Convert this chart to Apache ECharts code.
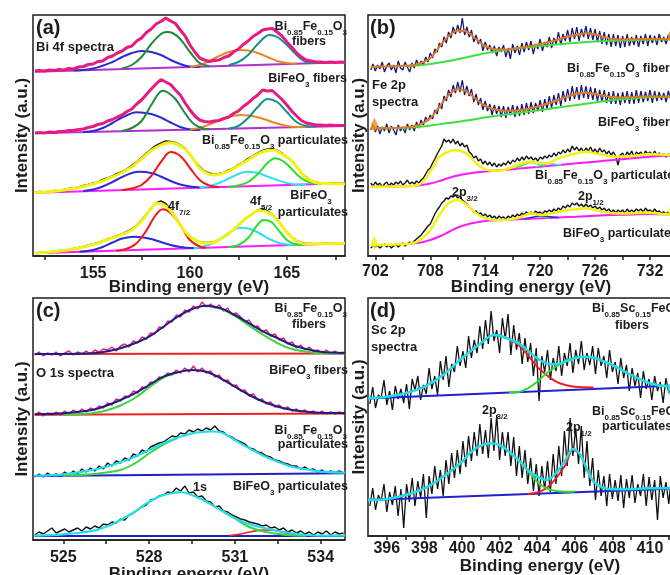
<!DOCTYPE html>
<html><head><meta charset="utf-8">
<script src="https://cdn.jsdelivr.net/npm/echarts@6/dist/echarts.min.js"></script>
<style>html,body{margin:0;padding:0;background:#fff}#c{width:670px;height:575px}</style>
</head><body><div id="c"></div>
<script>
// ---------- Panel (a): Bi 4f ----------
const aTicks=[152.5,155,157.5,160,162.5,165,167.5];
const aLabels=[155,160,165];
const aRawStart=152, aRawStep=0.25;
const aRaw1=[184,184.5,184,185,184.5,185.5,185,186.5,186,188,188.5,190.5,191,193.5,194,197.5,199,202,204,207.5,209,214,217,222.5,226,231,233.5,237,234,231.5,225,219,210,203,197,195,193.5,194.5,195,197.5,199,203,206,210.5,214,218.5,221.5,225,226,226.5,223,219,213,208,202,198,195,194,193,193,192.5,193,192.5,193,192.8];
const aRaw2=[122,122.5,122,123,122.5,123.5,123.5,124.5,124.5,125.5,126,127.5,128.5,130.5,131.5,134,135.5,138,140,143.5,146,151,155,160.5,166,171,175.5,173,170.5,165,160,152,145,139,135,133.5,133,134,134.5,136.5,138,141.5,144,148.5,152,156.5,160,165,164,164.5,160,155.5,150,144,139,134.5,132,131,130,130,129.5,130,129.5,129.5,129.5];
const aRaw3=[62.5,63.5,63,64,64.5,64,65.5,66.5,67,68,69.5,70.5,72,73,75.5,77,79,81.5,83.5,86,89.5,93,97.5,102,106,109.5,112,114,113.5,112.5,110,106.5,100.5,94,88.5,84,82,80.5,81.5,82.5,85,87,90.5,93,96.5,99,102,104.5,106,106.5,104.5,102,98,94,88.5,82,78,74.5,73,72,72,71.5,72,71.5,71.5];
const aRaw4=[2,2.5,3,3,4,4.5,5,5.5,6.5,7.5,8.5,10,11,12.5,14,16,17.5,19.5,21,23.5,26,30,35,41,47,52,54,51.5,45.5,38,30.5,23.5,18.5,15,13.5,12.5,12.5,13.5,15,18,21,25,29.5,34,38,41.5,45,46.5,44,40.5,35.5,29,23,18,14.5,12.5,11.5,11.5,11,11.5,11.5,12,11.5,12,12];
const aBase1=[[152,183.3],[168,192.7]];
const aBlue1=[[154,184.5],[155,186.5],[156,193],[156.5,198],[157,202],[157.5,204],[158,203],[158.5,200],[159,195],[159.5,191],[160,188.5],[160.5,188.3]];
const aGreen1=[[156.5,186.5],[157,190],[157.5,198],[158,211],[158.5,221],[158.8,223],[159.1,222],[159.5,216],[160,203],[160.5,192],[161,189]];
const aOrange1=[[160,188],[160.5,190],[161,194],[161.5,199],[162,203],[162.6,205],[163,204.5],[163.5,202],[164,198],[164.5,194],[165,192],[165.5,191.2]];
const aTeal1=[[162,190],[162.5,193],[163,200],[163.5,211],[164.1,220],[164.5,218],[165,210],[165.5,200],[166,193],[166.5,192]];
const aBase2=[[152,121.7],[168,129]];
const aBlue2=[[154.5,122.9],[155,124],[155.5,127],[156,132],[156.5,137.5],[157.25,142.7],[158,141],[158.5,137.5],[159,132.5],[159.5,128],[160,125.5],[160.5,125]];
const aGreen2=[[156.5,124],[157,127],[157.5,134],[158,150],[158.6,164.3],[159.2,157],[159.7,143],[160.2,131],[160.7,126.5],[161,125.7]];
const aOrange2=[[160,125.4],[160.5,127],[161,130.5],[161.5,134.5],[162,138],[162.6,140],[163.2,139],[163.8,136],[164.4,132],[165,129],[165.5,128],[166,128]];
const aTeal2=[[162,126.3],[162.5,129],[163,137],[163.5,148],[164,156],[164.5,153],[165,143],[165.5,133],[166,129],[166.5,128.4]];
const aBase3=[[152,62.3],[168,71.7]];
const aBlue3=[[154.5,64],[155,65.5],[155.5,68.5],[156,73],[156.5,78],[157,82],[157.4,83.3],[158,82],[158.5,78.5],[159,74],[159.5,70.5],[160,68.5],[160.5,67.5]];
const aRed3=[[156.5,65],[157,66.5],[157.5,70],[158,79],[158.5,93],[159,103],[159.5,99],[160,87],[160.5,75],[161,69.5],[161.5,68]];
const aCyan3=[[160.5,67.5],[161,69],[161.5,72],[162,76.5],[162.5,81],[162.9,83.3],[163.5,82],[164,78.5],[164.5,75],[165,72],[165.5,70.5],[166,70.6]];
const aGreenB3=[[162,68.2],[162.5,69.5],[163,73],[163.5,81],[164,92],[164.4,96.7],[164.8,94],[165.2,87],[165.6,79],[166,74],[166.5,71.5],[167,71.2]];
const aFit3=[[152,62.3],[152.5,63],[153,63.8],[153.5,65],[154,66.5],[154.5,68.5],[155,71],[155.5,74],[156,78],[156.5,82.5],[157,88],[157.5,96],[158,104.5],[158.5,110],[158.9,112.3],[159.3,111],[159.8,105],[160.2,95],[160.5,87],[160.9,81.5],[161.2,80],[161.6,81],[162,84],[162.5,89.5],[163,95],[163.5,101],[164,104.5],[164.3,105],[164.7,101.5],[165.2,95],[165.6,86],[166,77],[166.5,72.5],[167,71.5],[168,71.2]];
const aBase4=[[152,1.7],[160,6.7],[168,11.8]];
const aBlue4=[[154.3,3.2],[155,5],[155.5,8],[156,12.5],[156.5,16.5],[157.1,18.3],[157.6,17.5],[158,16],[158.5,13],[159,10],[159.5,8],[160,7],[160.3,7]];
const aRed4=[[156.2,4.3],[156.7,6],[157.2,11],[157.7,23],[158.2,39],[158.6,45.7],[159,42],[159.5,30],[160,15],[160.5,8.5],[160.8,7.3]];
const aCyan4=[[160.2,6.8],[160.7,8.5],[161.2,12],[161.7,18],[162.2,24.5],[162.6,27.3],[163.1,26],[163.6,21.5],[164.1,16],[164.6,12],[165.1,10.3],[165.5,10.1]];
const aGreenB4=[[162,8],[162.5,10],[163,17],[163.4,28],[163.8,35],[164.2,33],[164.6,24],[165,15],[165.4,11],[165.8,10.3]];
const aFit4=[[152,1.7],[152.5,2.5],[153,3.5],[153.5,4.5],[154,6],[154.5,8],[155,10.5],[155.5,13.5],[156,17],[156.5,20.5],[157,25],[157.5,34],[157.9,44],[158.3,51.5],[158.7,49.5],[159.1,41.7],[159.5,30],[160,18.3],[160.5,13],[160.9,11.7],[161.4,14],[161.9,20],[162.4,28],[162.9,36.7],[163.6,44.5],[164.1,42],[164.5,35],[164.9,25],[165.2,18.3],[165.6,13],[166,11],[167,11.3],[168,11.8]];

// ---------- Panel (b): Fe 2p ----------
const bTicks=[702,705,708,711,714,717,720,723,726,729,732,735];
const bLabels=[702,708,714,720,726,732];
const bRawStart=701.5, bRawStep=0.25;
const bRaw1=[186,192,185,191,187,194,184,190,193,186,191,183,195,188,186,194,189,184,193,188,196,190,195,191,199,194,203,198,207,204,213,209,219,213,224,218,229,222,231,223,238,221,229,219,226,214,221,212,217,205,214,206,211,203,210,200,209,204,211,199,208,197,212,203,210,201,213,204,214,206,215,202,212,207,217,205,214,209,219,208,218,212,224,211,222,215,226,214,228,217,229,215,227,219,230,217,228,216,227,214,225,212,224,211,222,209,222,210,221,208,220,209,222,210,219,211,221,209,220,212,222,210,221,213,220,211,222,214,219,212,221,215,218,214,217];
const bRaw2=[126,131,124,130,122,129,125,132,123,130,126,121,131,125,129,123,132,126,131,125,134,128,136,131,139,135,141,137,146,142,153,147,160,155,166,159,171,163,174,164,176,161,170,160,167,154,162,151,158,146,155,145,152,141,151,142,150,139,150,138,149,141,151,139,150,140,152,141,153,142,154,143,153,145,156,144,157,147,160,148,161,151,163,150,165,154,167,155,170,157,169,156,171,158,170,157,169,156,168,155,166,154,166,153,164,152,165,152,163,151,164,153,165,152,164,152,166,153,165,154,164,155,166,153,165,155,164,156,163,154,165,157,162,158,160];
const bRaw3=[73,70,74,71,73,69,72,74,70,73,71,74,72,75,71,73,76,72,74,72,75,73,76,78,82,86,88,93,97,102,106,110,117,114,116,113,117,112,115,110,113,109,111,104,102,98,100,95,97,92,95,91,94,90,93,89,92,90,93,91,95,92,96,94,98,95,99,96,100,97,99,96,98,95,99,97,100,98,101,99,103,100,104,102,106,103,107,104,110,106,109,105,108,104,108,105,109,104,107,103,108,104,106,102,105,101,104,100,91,101,103,99,104,101,105,99,104,102,104,100,105,102,104,101,105,101,103,100,102,99,102,99,101,100,100];
const bRaw4=[8,10,9,11,8,10,12,9,11,8,10,12,9,11,13,10,12,14,12,15,17,19,21,24,27,30,32,37,42,46,49,53,55,58,57,60,59,61,58,60,56,54,52,49,47,44,45,42,43,40,42,39,41,38,40,37,40,38,39,37,40,38,41,39,42,40,43,41,44,42,44,42,45,43,44,42,45,44,46,44,47,45,48,46,50,48,51,49,53,51,53,50,52,49,52,49,51,48,50,47,49,46,48,45,47,44,46,43,46,44,46,43,47,44,46,44,47,45,47,44,48,45,46,44,47,44,45,43,44,42,44,41,43,41,42];
const bFit1=[[701.5,189.3],[702,189.3],[703,189.5],[704,189.8],[705,190.2],[706,190.7],[707,193],[708,197.7],[709,209.3],[710,220],[711,225.3],[712,224.3],[713,216.7],[714,210],[715,206.7],[716,206.3],[717,207],[718,208.6],[719,210],[720,212],[721,214],[722,216.7],[723,219.5],[724,221],[725,222.7],[726,221.7],[727,219],[728,217],[729,216.5],[730,216.8],[731,217],[732,217],[733,217],[734,216.8],[735,216.7]];
const bBase1=[[704.5,190],[706,190.3],[708,192],[710,195],[712,198.7],[714,202.7],[716,205.8],[718,208.2],[720,210],[722,211.7],[724,213.3],[726,214.5],[728,215.2],[730,216],[732,216.5],[735,216.7]];
const bFit2=[[701.5,127.7],[702,127.7],[703,127.8],[704,128],[705,128.5],[706,129.3],[707,132],[708,137.7],[709,149.3],[710,161],[711,166.7],[712,164.3],[713,156.7],[714,150],[715,146.7],[716,145.3],[717,145.3],[718,146],[719,147.8],[720,150],[721,153],[722,156],[723,159.5],[724,162],[725,163.3],[726,162],[727,160.3],[728,158.7],[729,158.6],[730,158.8],[731,159.3],[732,159.6],[733,159.5],[734,159.3],[735,159.3]];
const bBase2=[[701.5,127.7],[704,127.9],[706,128.5],[708,130.5],[710,133],[712,135.5],[714,138.5],[716,141],[718,143.5],[720,146],[722,148.5],[724,151],[726,153.5],[728,156],[730,157.5],[732,158.7],[735,159.3]];
const bFit3=[[701.5,69.3],[702,69.3],[704,69.5],[706,70],[707,72.7],[708,84.3],[709,99.3],[710,104.3],[710.7,106],[712,102],[713,92.7],[714,86.7],[715,85.3],[716,86],[717,89],[718,92.7],[719,94.3],[720,92.7],[721,93.3],[722,97.7],[723,100.5],[724,102.7],[725,104.3],[726,102.7],[727,101],[728,99.3],[729,99.5],[730,100],[731,101],[732,102],[733,101.5],[734,101],[735,101.3]];
const bBase3=[[701.5,69.3],[706,70],[707,71],[708,72.5],[709,75],[710,78],[711,80.5],[712,82.3],[714,84.5],[716,86],[718,87.7],[720,89.3],[722,91],[724,92.7],[726,94.3],[728,96],[730,97.7],[732,99.3],[734,100.5],[735,101]];
const bGreen3=[[717.3,88],[718,90.5],[719,93.5],[719.8,92],[720.5,89.5]];
const bCyan3=[[719.5,89],[720.3,91.5],[721,92.5],[721.7,91.5],[722.3,91]];
const bFit4=[[701.5,11],[702,11],[704,11.5],[706,12.7],[707,16.7],[708,26],[709,41],[710,52.7],[711,56],[712,51],[713,42.7],[714,37.7],[715,36],[716,36],[717,37],[718,39.3],[719,42.7],[720,41],[721,42],[722,44.3],[723,46],[724,46.7],[725,47.7],[726,46],[727,44],[728,42.7],[729,42.5],[730,42.7],[731,43.2],[732,43.3],[733,42.5],[734,41.5],[735,41.2]];
const bBase4=[[705.9,12.5],[707,13.5],[708,16],[709,19.5],[710,24],[711,28.5],[712,31.5],[713,33.5],[714,35],[716,36],[718,37],[720,37.7],[722,38.5],[724,39.3],[726,40.2],[728,41],[730,41.5],[732,42],[734,41.5],[735,41.2]];
const bGreen4=[[717,37],[718.3,40.5],[719.2,42.2],[720,40],[721,38]];
const bBlue4=[[718.3,37.3],[719.3,39],[720.2,40.3],[721,39.3],[722,38.6]];
// spectrum end markers visible at panel (b)/(d) edges
const bEndOrange=[[701.9,131],[734.3,220]];
const bEndYellow=[[701.9,13],[734.3,44]];
const dEndCyan=[[411.1,146]];

// ---------- Panel (c): O 1s ----------
const cTicks=[525,526.5,528,529.5,531,532.5,534];
const cLabels=[525,528,531,534];
const cRawStart=524, cRawStep=0.15;
const cRaw1=[185,188,184,187,185,188,184,187,189,185,188,186,189,186,190,188,191,190,193,189,194,196,193,199,197,203,201,207,206,213,212,219,218,225,223,230,228,234,231,238,233,236,232,235,229,232,225,227,223,218,220,213,214,208,210,204,206,200,202,196,198,192,195,190,193,188,190,187,190,186,189,186,188];
const cRaw2=[125,128,124,127,125,128,125,129,126,130,127,131,128,132,130,134,132,137,135,141,139,144,143,149,147,153,152,158,157,163,162,167,165,170,167,172,168,174,168,172,167,169,163,165,159,160,154,155,149,150,144,146,140,141,136,138,133,135,131,133,129,131,128,130,127,129,126,129,126,128,126,128,126];
const cRaw3=[63,66,63,67,64,66,64,68,65,69,66,71,68,72,69,74,71,77,74,79,77,82,80,86,84,90,88,93,95,97,98,101,104,103,107,106,110,108,111,109,112,110,114,109,108,104,103,100,98,96,92,91,88,87,84,83,80,79,77,76,74,74,71,73,70,71,68,70,67,69,67,69,67];
const cRaw4=[5,8,6,9,12,7,9,11,8,10,12,9,13,11,14,12,16,15,18,17,21,20,25,27,30,33,35,40,41,44,45,48,47,52,49,54,47,48,43,44,39,38,33,34,29,28,25,23,21,20,18,17,16,14,15,12,13,10,12,8,10,7,9,6,8,5,8,6,9,5,8,6,7];
const cFit1=[[524,186],[525,186],[526,186.7],[526.5,188.5],[527,191.7],[527.5,196.7],[528,203.3],[528.5,213.3],[529,223.3],[529.5,231],[530,234.3],[530.5,231.7],[531,225],[531.5,216.7],[532,208.3],[532.5,201.7],[533,195],[533.5,191],[534,188.3],[534.85,187]];
const cGreen1=[[530,234.3],[530.5,231.5],[531,224],[531.5,214.3],[532,205],[532.5,196.7],[533,191],[533.5,188.3],[534,186.9],[534.85,186.5]];
const cBase1=[[524,186],[534.85,186.5]];
const cFit2=[[524,125.7],[525,126.7],[526,130],[526.5,134.3],[527,140],[527.5,146.7],[528,155],[528.5,163.3],[529,167.7],[529.5,170],[530,168.3],[530.5,161.7],[531,153.3],[531.5,145],[532,138.3],[532.5,133.3],[533,130],[533.5,128.3],[534,127.3],[534.85,127]];
const cGreen2=[[525,125.4],[525.5,125.8],[526,126.8],[526.5,129.5],[527,134.5],[527.5,142],[528,152.5],[528.5,162.5],[529,167.5]];
const cBase2=[[524,125.3],[534.85,126.5]];
const cFit3=[[524,64.3],[525,65.7],[526,70],[526.5,73.3],[527,77.7],[527.5,83.3],[528,90],[528.5,96.7],[529,102.3],[529.5,106.7],[530,108.3],[530.2,108.5],[530.5,107.7],[531,100],[531.5,91.7],[532,84.3],[532.5,78.3],[533,73.3],[533.5,70.7],[534,68.3],[534.85,67.3]];
const cGreen3=[[525,64.5],[525.5,64.9],[526,65.7],[526.5,67.5],[527,70],[527.5,76.5],[528,86.5],[528.5,95.5],[529,102]];
const cBase3=[[524,64],[534.85,66.7]];
const cFit4=[[524,4.3],[525,5.7],[526,9],[526.5,13.3],[527,20],[527.5,28.3],[528,38.3],[528.5,45],[529,47.7],[529.1,48],[529.5,45],[530,38.3],[530.5,30],[531,21.7],[531.5,15.7],[532,12.3],[532.5,9],[533,6.7],[533.5,5],[534,4.3],[534.85,4.3]];
const cGreen4=[[530.5,30],[531,21.5],[531.5,13],[532,8.5],[532.5,6],[533,4.8],[533.5,4.3]];
const cRed4=[[530.8,4.4],[531.2,6],[531.6,8.5],[532,10],[532.4,9.5],[532.8,7],[533.2,5],[533.5,4.4]];
const cBase4=[[524,4],[534.85,4]];

// ---------- Panel (d): Sc 2p ----------
const dTicks=[396,397,398,399,400,401,402,403,404,405,406,407,408,409,410,411,412,413];
const dLabels=[396,398,400,402,404,406,408,410,412];
const dRawStart=395.1, dRawStep=0.15;
const dRaw1=[132,149,128,141,138,156,131,145,126,150,137,147,133,152,127,157,146,160,136,151,142,168,147,160,141,175,156,180,149,172,164,190,170,185,168,200,178,196,183,210,187,216,192,225,195,206,183,218,197,222,181,211,186,203,172,198,174,193,160,188,135,180,164,186,156,178,165,190,160,183,170,193,163,186,172,195,166,183,171,190,162,188,170,180,158,186,164,174,152,178,158,171,145,168,150,163,138,165,147,157,136,160,145,154,133,158,143,149,137,156];
const dRaw2=[30,48,26,41,35,52,24,44,31,50,20,47,8,52,34,58,30,55,38,62,18,60,42,70,47,66,40,76,52,83,58,86,62,95,69,100,75,104,80,112,82,106,78,118,85,121,76,104,80,104,70,99,60,90,58,86,52,78,45,72,40,70,46,75,44,82,52,90,60,105,70,118,80,108,72,110,58,95,50,78,36,66,40,60,30,62,37,56,35,61,28,57,38,61,33,52,40,62,30,59,36,56,16,60,38,54,32,62,40,57];
const dFit1=[[395,137.7],[396,139.3],[397,142.7],[398,149.3],[399,161],[400,177.7],[401,192.7],[401.7,201],[402,200.3],[403,192.7],[404,177.7],[404.5,172.7],[405,171.7],[405.5,174.3],[406,177.7],[406.5,179.3],[407,178.3],[408,171],[409,161],[410,152.7],[410.8,150],[411.5,150.5]];
const dRed1=[[401.7,201],[402,200.3],[402.5,197],[403,191],[403.5,181],[404,169.3],[404.5,161],[405,154.3],[405.5,151],[406,149.3],[406.5,148.7],[407,148.6]];
const dGreen1=[[402.5,143.5],[403,144],[403.5,147.7],[404,154.3],[404.5,162.7],[405,169.3],[405.5,175],[406,178.3],[406.5,179.3]];
const dBase1=[[395,137.6],[411.5,150.5]];
const dFit2=[[395,36],[396,37],[397,41],[398,47.7],[399,59.3],[400,74.3],[400.5,84.3],[401,90.3],[401.5,92.7],[402,91],[402.5,84.3],[403,76],[403.5,66],[404,59.3],[404.5,56],[405,62.7],[405.5,76],[405.9,87],[406.3,81],[406.7,64.3],[407,54.3],[407.5,48.3],[408,46.7],[409,47],[410,47.7],[411.5,47.7]];
const dRed2=[[403.5,42],[404,43.5],[404.5,48],[405,57.7],[405.5,71],[405.9,86],[406.3,81],[406.7,64.3],[407,54.3]];
const dGreen2=[[403,76],[403.5,66],[404,54.3],[404.5,47.7],[405,45],[405.5,44.3],[406,44.6]];
const dBase2=[[395,36],[411.5,47.5]];

// ---------- build ----------
const F='"Liberation Sans", Arial, Helvetica, sans-serif';
const INK='#1c1c1c';
const series=[];
function L(g,data,color,width,smooth){
  series.push({type:'line',xAxisIndex:g,yAxisIndex:g,data:data,symbol:'none',showSymbol:false,
    smooth:smooth?0.35:false,lineStyle:{color:color,width:width},itemStyle:{color:color},silent:true});
}
function M(g,data,color){
  series.push({type:'scatter',xAxisIndex:g,yAxisIndex:g,data:data,symbol:'diamond',symbolSize:[7,15],
    itemStyle:{color:color},silent:true,z:5});
}
function raw(start,step,vals){return vals.map((v,i)=>[+(start+i*step).toFixed(3),v]);}

// (a)
const PINK='#e8197f';
L(0,aBase1,'#b22fd0',2,false);L(0,aBlue1,'#2b2bd6',2,true);L(0,aOrange1,'#e68a1f',2,true);L(0,aGreen1,'#1f8b3a',2,true);L(0,aTeal1,'#168f8f',2,true);
L(0,raw(aRawStart,aRawStep,aRaw1),PINK,3,false);
L(0,aBase2,'#b22fd0',2,false);L(0,aBlue2,'#2b2bd6',2,true);L(0,aOrange2,'#e68a1f',2,true);L(0,aGreen2,'#1f8b3a',2,true);L(0,aTeal2,'#168f8f',2,true);
L(0,raw(aRawStart,aRawStep,aRaw2),PINK,3,false);
L(0,raw(aRawStart,aRawStep,aRaw3),'#222',1.6,false);
L(0,aBase3,'#ff1aff',2,false);L(0,aBlue3,'#2b2bd6',2,true);L(0,aCyan3,'#30e0f0',2,true);L(0,aRed3,'#f01818',2,true);L(0,aGreenB3,'#28e028',2,true);
L(0,aFit3,'#f2f215',3,true);
L(0,raw(aRawStart,aRawStep,aRaw4),'#222',1.6,false);
L(0,aBase4,'#ff1aff',2,false);L(0,aBlue4,'#2b2bd6',2,true);L(0,aCyan4,'#30e0f0',2,true);L(0,aRed4,'#f01818',2,true);L(0,aGreenB4,'#28e028',2,true);
L(0,aFit4,'#f2f215',3,true);
// (b)
const NAVY='#17177a';
L(1,raw(bRawStart,bRawStep,bRaw1),NAVY,1.3,false);L(1,bBase1,'#3ee03e',2,true);L(1,bFit1,'#e07a1f',2,true);
L(1,raw(bRawStart,bRawStep,bRaw2),NAVY,1.3,false);L(1,bBase2,'#3ee03e',2,true);L(1,bFit2,'#e07a1f',2,true);
L(1,raw(bRawStart,bRawStep,bRaw3),'#111',1.4,false);L(1,bBase3,'#ff1aff',2,true);L(1,bGreen3,'#3ee03e',1.5,true);L(1,bCyan3,'#30e0f0',1.5,true);L(1,bFit3,'#f2f215',2.5,true);
L(1,raw(bRawStart,bRawStep,bRaw4),'#111',1.4,false);L(1,bBase4,'#ff1aff',2,true);L(1,bGreen4,'#3ee03e',1.5,true);L(1,bBlue4,'#2b2bd6',1.5,true);L(1,bFit4,'#f2f215',2.5,true);
M(1,bEndOrange,'#f08a1a');M(1,bEndYellow,'#f2f215');
// (c)
L(2,raw(cRawStart,cRawStep,cRaw1),PINK,1.4,false);L(2,cBase1,'#ee2222',2,false);L(2,cGreen1,'#3cd43c',2,true);L(2,cFit1,'#1e1e7e',2,true);
L(2,raw(cRawStart,cRawStep,cRaw2),PINK,1.4,false);L(2,cBase2,'#ee2222',2,false);L(2,cGreen2,'#3cd43c',2,true);L(2,cFit2,'#1e1e7e',2,true);
L(2,raw(cRawStart,cRawStep,cRaw3),'#111',1.4,false);L(2,cBase3,'#2020c8',2,false);L(2,cGreen3,'#3cd43c',2,true);L(2,cFit3,'#22dded',2.2,true);
L(2,raw(cRawStart,cRawStep,cRaw4),'#111',1.4,false);L(2,cBase4,'#2020c8',2,false);L(2,cRed4,'#ee2222',1.6,true);L(2,cGreen4,'#3cd43c',2,true);L(2,cFit4,'#22dded',2.2,true);
// (d)
L(3,raw(dRawStart,dRawStep,dRaw1),'#111',1.3,false);L(3,dBase1,'#2020d0',2,false);L(3,dRed1,'#f02020',2,true);L(3,dGreen1,'#30d830',2,true);L(3,dFit1,'#20dce8',2.5,true);
L(3,raw(dRawStart,dRawStep,dRaw2),'#111',1.3,false);L(3,dBase2,'#2020d0',2,false);L(3,dRed2,'#f02020',2,true);L(3,dGreen2,'#30d830',2,true);L(3,dFit2,'#20dce8',2.5,true);
M(3,dEndCyan,'#30e0f0');

function xa(g,min,max,ticks,labels,margin,gap){
  return {type:'value',gridIndex:g,min:min,max:max,position:'bottom',
    axisLine:{show:true,onZero:false,lineStyle:{color:INK,width:1.5}},
    axisTick:{show:true,inside:false,length:4,customValues:ticks,lineStyle:{color:INK,width:1.5}},
    axisLabel:{show:true,customValues:labels,margin:margin,color:INK,fontSize:16,fontWeight:'bold',fontFamily:F},
    splitLine:{show:false},
    name:'Binding energy (eV)',nameLocation:'middle',nameGap:gap,nameMoveOverlap:false,
    nameTextStyle:{color:INK,fontSize:17,fontWeight:'bold',fontFamily:F}};
}
function ya(g,min,max,gap){
  return {type:'value',gridIndex:g,min:min,max:max,
    axisLine:{show:false},axisTick:{show:false},axisLabel:{show:false},splitLine:{show:false},
    name:'Intensity (a.u.)',nameLocation:'middle',nameGap:gap,nameRotate:90,nameMoveOverlap:false,
    nameTextStyle:{color:INK,fontSize:17,fontWeight:'bold',fontFamily:F}};
}
const G={show:true,borderColor:INK,borderWidth:1.5,backgroundColor:'transparent',containLabel:false,outerBoundsMode:'none'};
const grids=[
  Object.assign({left:33,top:15,width:312,height:241},G),
  Object.assign({left:368,top:15,width:326,height:241},G),
  Object.assign({left:33,top:298,width:312,height:242},G),
  Object.assign({left:368,top:298,width:344,height:238},G)
];

const gfx=[];
function T(x,y,text,size,align){
  gfx.push({type:'text',x:x,y:y,z:100,silent:true,style:{text:text,fill:INK,fontSize:size,fontWeight:'bold',fontFamily:F,
    align:align||'left',verticalAlign:'middle',lineHeight:size+8,
    rich:{s:{fill:INK,fontSize:Math.round(size*0.62),fontWeight:'bold',fontFamily:F,lineHeight:8,verticalAlign:'bottom'}}}});
}
// (a)
T(36,28,'(a)',20);T(36,47,'Bi 4f spectra',13);
T(347,27,'Bi{s|0.85}Fe{s|0.15}O{s|3}',12.5,'right');T(309,42,'fibers',12.5,'center');
T(347,79,'BiFeO{s|3} fibers',12.5,'right');
T(348,141,'Bi{s|0.85}Fe{s|0.15}O{s|3} particulates',12.5,'right');
T(311,196,'BiFeO{s|3}',12.5,'center');T(348,213,'particulates',12.5,'right');
T(168,207,'4f{s|7/2}',12.5);T(250,202,'4f{s|5/2}',12.5);
// (b)
T(370,28,'(b)',20);T(372,85,'Fe 2p',13);T(372,102,'spectra',13);
T(567,69,'Bi{s|0.85}Fe{s|0.15}O{s|3} fibers',12.5);
T(598,123,'BiFeO{s|3} fibers',12.5);
T(535,176,'Bi{s|0.85}Fe{s|0.15}O{s|3} particulates',12.5);
T(452,193,'2p{s|3/2}',12.5);T(578,197,'2p{s|1/2}',12.5);
T(563,234,'BiFeO{s|3} particulates',12.5);
// (c)
T(36,311,'(c)',20);T(36,373,'O 1s spectra',13);
T(347,309,'Bi{s|0.85}Fe{s|0.15}O{s|3}',12.5,'right');T(309,325,'fibers',12.5,'center');
T(348,371,'BiFeO{s|3} fibers',12.5,'right');
T(347,431,'Bi{s|0.85}Fe{s|0.15}O{s|3}',12.5,'right');T(348,445,'particulates',12.5,'right');
T(348,487,'BiFeO{s|3} particulates',12.5,'right');
T(193,488,'1s',12.5);
// (d)
T(370,311,'(d)',20);T(371,330,'Sc 2p',13);T(371,347,'spectra',13);
T(592,309,'Bi{s|0.85}Sc{s|0.15}FeO{s|3}',12.5);T(615,326,'fibers',12.5);
T(482,411,'2p{s|3/2}',12.5);
T(592,412,'Bi{s|0.85}Sc{s|0.15}FeO{s|3}',12.5);T(602,427,'particulates',12.5);
T(566,428,'2p{s|1/2}',12.5);

const chart=echarts.init(document.getElementById('c'),null,{renderer:'canvas'});
chart.setOption({
  animation:false,backgroundColor:'#fff',
  textStyle:{fontFamily:F},
  grid:grids,
  xAxis:[xa(0,151.9,168,aTicks,aLabels,10,23),xa(1,701.2,736.8,bTicks,bLabels,8,23),xa(2,523.94,534.85,cTicks,cLabels,10,26),xa(3,395,413.3,dTicks,dLabels,5,22)],
  yAxis:[ya(0,-1,240,2),ya(1,0,241,0),ya(2,0,242,2),ya(3,0,238,0)],
  series:series,
  graphic:gfx
});
</script></body></html>
